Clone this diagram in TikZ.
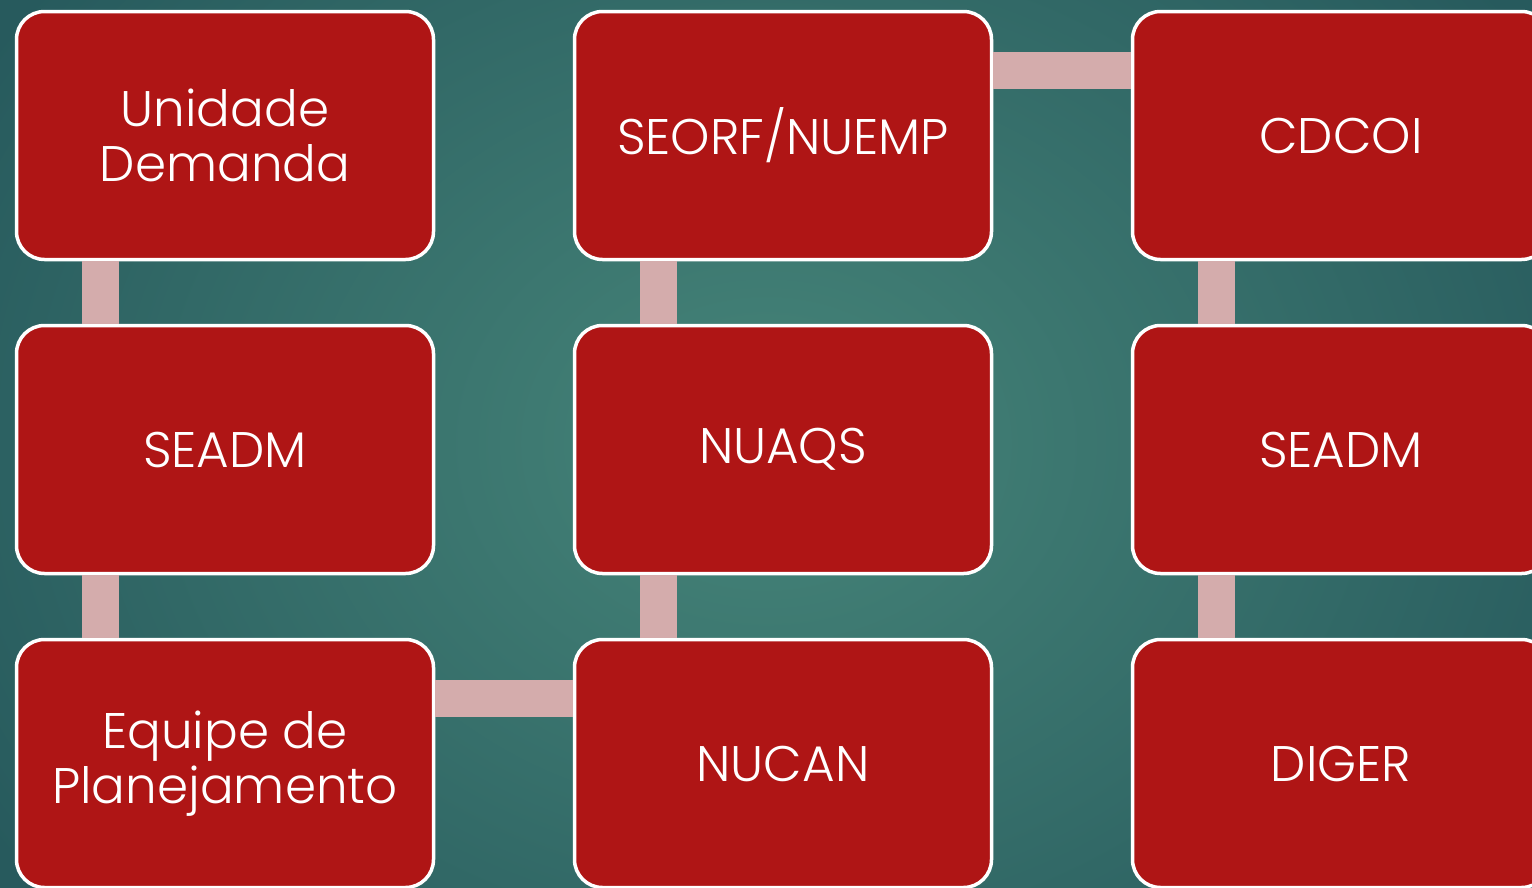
\documentclass[tikz,border=0pt]{standalone}
\usepackage{fontspec}
\setmainfont{Poppins}[UprightFont=* Light]
\definecolor{boxred}{HTML}{AF1515}
\definecolor{connpink}{HTML}{D4ACAC}
\definecolor{bginner}{HTML}{468579}
\definecolor{bgouter}{HTML}{275A5D}
\tikzset{
  stepbox/.style={draw=white, line width=3.5pt, fill=boxred, rounded corners=28pt,
    minimum width=417pt, minimum height=248pt, text=white, align=center,
    font=\fontsize{50}{55}\selectfont, inner sep=0pt},
  conn/.style={draw=connpink, line width=37pt}
}
\begin{document}
\begin{tikzpicture}[x=1pt,y=-1pt]
\useasboundingbox (0,0) rectangle (1532,887);
\clip (0,0) rectangle (1532,887);
\shade[inner color=bginner, outer color=bgouter] (-150,-300) rectangle (1682,1187);
% boxes
\node[stepbox] (a1) at (225,135.5) {Unidade\\Demanda};
\node[stepbox] (a2) at (225,449.5) {SEADM};
\node[stepbox] (a3) at (225,763.5) {Equipe de\\Planejamento};
\node[stepbox] (b1) at (783,135.5) {SEORF/NUEMP};
\node[stepbox] (b2) at (783,449.5) {NUAQS};
\node[stepbox] (b3) at (783,763.5) {NUCAN};
\node[stepbox] (c1) at (1341,135.5) {CDCOI};
\node[stepbox] (c2) at (1341,449.5) {SEADM};
\node[stepbox] (c3) at (1341,763.5) {DIGER};
% connectors
\draw[conn] ([xshift=86pt]a1.south west) -- ([xshift=86pt]a2.north west);
\draw[conn] ([xshift=86pt]a2.south west) -- ([xshift=86pt]a3.north west);
\draw[conn] ([yshift=-61pt]a3.north east) -- ([yshift=-61pt]b3.north west);
\draw[conn] ([xshift=86pt]b3.north west) -- ([xshift=86pt]b2.south west);
\draw[conn] ([xshift=86pt]b2.north west) -- ([xshift=86pt]b1.south west);
\draw[conn] ([yshift=-60.5pt]b1.north east) -- ([yshift=-60.5pt]c1.north west);
\draw[conn] ([xshift=86pt]c1.south west) -- ([xshift=86pt]c2.north west);
\draw[conn] ([xshift=86pt]c2.south west) -- ([xshift=86pt]c3.north west);
\end{tikzpicture}
\end{document}
